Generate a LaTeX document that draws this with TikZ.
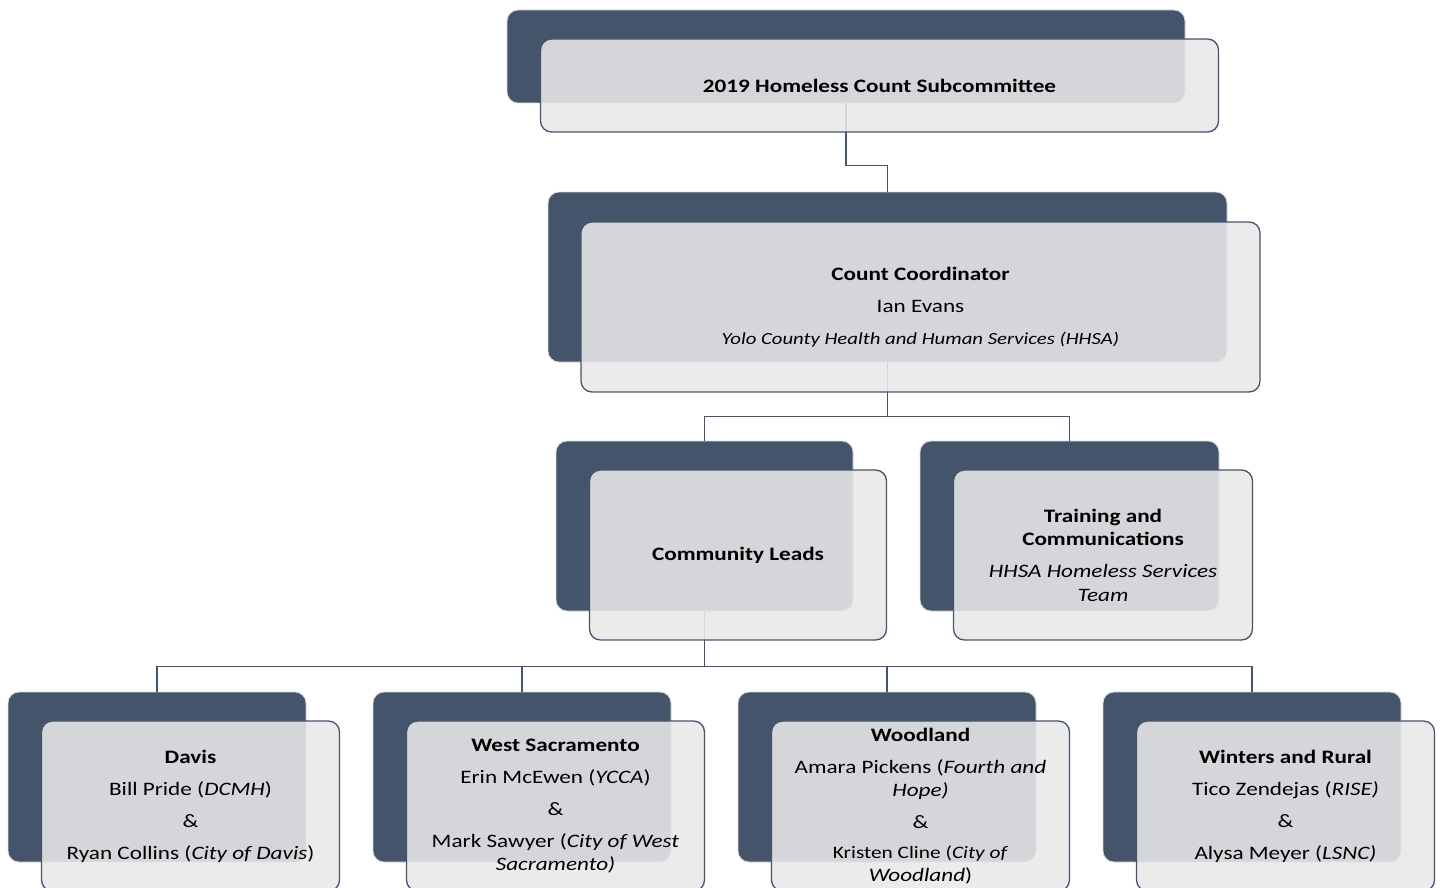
\documentclass[tikz,border=0pt]{standalone}
\usepackage{fontspec}
\setmainfont{Carlito}[FakeStretch=1.22]
\definecolor{slate}{HTML}{44546A}
\definecolor{paper}{HTML}{E8E8E9}
\begin{document}
\begin{tikzpicture}[x=1pt,y=-1pt,
    back/.style={draw=gray!30,line width=0.8pt,fill=slate,rounded corners=11pt},
    front/.style={draw=slate,line width=1.3pt,fill=paper,fill opacity=0.88,text opacity=1,
      rounded corners=11pt,align=center,inner sep=0pt,font=\fontsize{19}{23.5}\selectfont},
    link/.style={draw=slate,line width=1.6pt}]
    \useasboundingbox (0,0) rectangle (1442,888);
    % back boxes
    \node[back,minimum width=678pt,minimum height=93pt] (subB) at (846,56.5) {};
    \node[back,minimum width=679pt,minimum height=170pt] (coordB) at (887.5,277) {};
    \node[back,minimum width=297pt,minimum height=170pt] (leadsB) at (704.5,526) {};
    \node[back,minimum width=299pt,minimum height=170pt] (trainB) at (1069.5,526) {};
    \node[back,minimum width=298pt,minimum height=170pt] (davisB) at (157,777) {};
    \node[back,minimum width=298pt,minimum height=170pt] (westB) at (522,777) {};
    \node[back,minimum width=298pt,minimum height=170pt] (woodB) at (887,777) {};
    \node[back,minimum width=298pt,minimum height=170pt] (wintB) at (1252,777) {};
    % connectors
    \draw[link] (subB.south) -- ++(0,62) -| (coordB.north);
    \draw[link] (coordB.south) -- ++(0,54) -| (leadsB.north);
    \draw[link] (coordB.south) -- ++(0,54) -| (trainB.north);
    \draw[link] (leadsB.south) -- ++(0,55) -| (davisB.north);
    \draw[link] (leadsB.south) -- ++(0,55) -| (westB.north);
    \draw[link] (leadsB.south) -- ++(0,55) -| (woodB.north);
    \draw[link] (leadsB.south) -- ++(0,55) -| (wintB.north);
    % front boxes
    \node[front,minimum width=678pt,minimum height=93pt] (sub) at (879.5,85.5)
      {\textbf{2019 Homeless Count Subcommittee}};
    \node[front,minimum width=679pt,minimum height=170pt] (coord) at (920.5,307)
      {\textbf{Count Coordinator}\\[8.5pt] Ian Evans\\[8.5pt]
       \fontsize{17}{21}\selectfont\itshape Yolo County Health and Human Services (HHSA)};
    \node[front,minimum width=297pt,minimum height=170pt] (leads) at (738,555)
      {\textbf{Community Leads}};
    \node[front,minimum width=299pt,minimum height=170pt] (train) at (1103,555)
      {\textbf{Training and}\\ \textbf{Communications}\\[8.5pt]
       \textit{HHSA Homeless Services}\\ \textit{Team}};
    \node[front,minimum width=298pt,minimum height=170pt] (davis) at (190.5,806)
      {\textbf{Davis}\\[8.5pt] Bill Pride (\textit{DCMH})\\[8.5pt] \&\\[8.5pt]
       Ryan Collins (\textit{City of Davis})};
    \node[front,minimum width=298pt,minimum height=170pt] (west) at (555.5,806)
      {\textbf{West Sacramento}\\[8.5pt] Erin McEwen (\textit{YCCA})\\[8.5pt] \&\\[8.5pt]
       Mark Sawyer (\textit{City of West}\\ \textit{Sacramento)}};
    \node[front,minimum width=298pt,minimum height=170pt] (wood) at (920.5,806)
      {\textbf{Woodland}\\[8.5pt] Amara Pickens (\textit{Fourth and}\\ \textit{Hope)}\\[8.5pt] \&\\[6pt]
       \fontsize{17.5}{21}\selectfont Kristen Cline (\textit{City of}\\ \textit{Woodland})};
    \node[front,minimum width=298pt,minimum height=170pt] (wint) at (1285.5,806)
      {\textbf{Winters and Rural}\\[8.5pt] Tico Zendejas (\textit{RISE)}\\[8.5pt] \&\\[8.5pt]
       Alysa Meyer (\textit{LSNC)}};
\end{tikzpicture}
\end{document}
